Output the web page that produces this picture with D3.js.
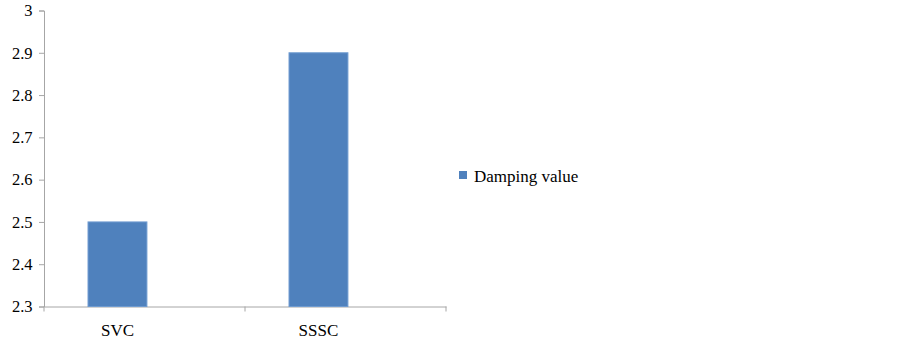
<!DOCTYPE html>
<html>
<head>
<meta charset="utf-8">
<script src="https://cdn.jsdelivr.net/npm/d3@7"></script>
<style>
  body { margin: 0; background: #fff; }
  svg text { font-family: "Liberation Serif", "DejaVu Serif", serif; fill: #000; }
</style>
</head>
<body>
<svg id="chart" width="903" height="342"></svg>
<script>
const categories = ["SVC", "SSSC"];
const values = [2.5, 2.9];
const yTicks = [2.3, 2.4, 2.5, 2.6, 2.7, 2.8, 2.9, 3];
const seriesName = "Damping value";

const fontStack = '"Liberation Serif", "DejaVu Serif", serif';

const svg = d3.select("#chart");
const plotLeft = 44, plotRight = 446, plotTop = 10.5, plotBottom = 306.5;

const x = d3.scaleBand().domain(categories).range([plotLeft, plotRight]);
const y = d3.scaleLinear().domain([2.3, 3]).range([plotBottom, plotTop]);

const axisColor = "#a6a6a6";

// y axis
const yAxis = svg.append("g")
  .attr("transform", `translate(${plotLeft},0)`)
  .call(d3.axisLeft(y).tickValues(yTicks).tickSize(5).tickPadding(6)
    .tickFormat(d => d3.format("~g")(d)));
yAxis.attr("font-family", fontStack).attr("font-size", 16.5);
yAxis.select(".domain").attr("stroke", axisColor);
yAxis.selectAll(".tick line").attr("stroke", axisColor);
yAxis.selectAll("text").attr("dx", "-0.5");

// x axis
const xAxis = svg.append("g")
  .attr("transform", `translate(0,${plotBottom})`)
  .call(d3.axisBottom(x).tickSize(0).tickFormat(""));
xAxis.select(".domain").attr("stroke", axisColor);
xAxis.selectAll(".tick").remove();
const bounds = [plotLeft].concat(categories.map(c => x(c) + x.bandwidth()));
svg.append("g").selectAll("line").data(bounds).join("line")
  .attr("x1", d => d).attr("x2", d => d)
  .attr("y1", plotBottom).attr("y2", plotBottom + 5)
  .attr("stroke", axisColor);

const barOffset = x.bandwidth() * 0.219;
const barWidth = x.bandwidth() * 0.293;

svg.append("g").selectAll("rect").data(categories).join("rect")
  .attr("x", (d) => x(d) + barOffset)
  .attr("y", (d, i) => y(values[i]))
  .attr("width", barWidth)
  .attr("height", (d, i) => plotBottom - y(values[i]))
  .attr("fill", "#4f81bd")
  .attr("stroke", "#6f9bd0")
  .attr("stroke-width", 1);

svg.append("g").attr("font-family", fontStack).attr("font-size", 17)
  .selectAll("text").data(categories).join("text")
  .attr("x", (d) => x(d) + barOffset + barWidth / 2)
  .attr("y", 336)
  .attr("text-anchor", "middle")
  .text(d => d);

// legend
const legend = svg.append("g").attr("transform", "translate(459,171)");
legend.append("rect").attr("width", 8).attr("height", 8).attr("fill", "#4f81bd");
legend.append("text").attr("x", 15).attr("y", 10.5)
  .attr("font-family", fontStack).attr("font-size", 17).text(seriesName);
</script>
</body>
</html>
